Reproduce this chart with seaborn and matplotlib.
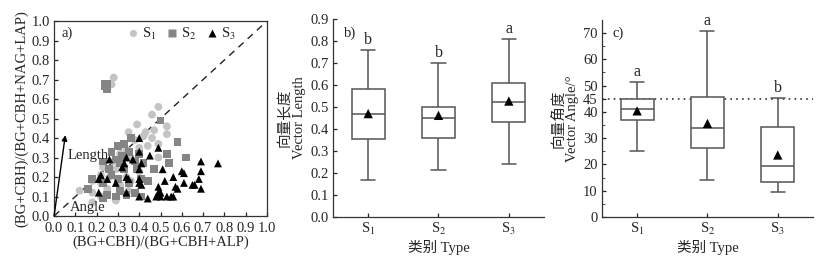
import numpy as np
import pandas as pd
import matplotlib
matplotlib.use("Agg")
import matplotlib.pyplot as plt
import seaborn as sns

# ---------------- data ----------------
groups = ["S$_1$", "S$_2$", "S$_3$"]

s1_x = [0.28, 0.27, 0.49, 0.46, 0.39, 0.53, 0.35, 0.43, 0.47, 0.42, 0.46, 0.38, 0.44, 0.49,
        0.40, 0.34, 0.31, 0.49, 0.36, 0.28, 0.23, 0.29, 0.40, 0.22, 0.26, 0.34, 0.18, 0.36,
        0.22, 0.31, 0.12, 0.18, 0.25, 0.22, 0.35, 0.29, 0.18, 0.53]
s1_y = [0.71, 0.675, 0.56, 0.52, 0.47, 0.46, 0.43, 0.43, 0.44, 0.41, 0.40, 0.39, 0.36, 0.37,
        0.35, 0.34, 0.32, 0.30, 0.30, 0.28, 0.25, 0.24, 0.23, 0.21, 0.20, 0.20, 0.18, 0.18,
        0.17, 0.16, 0.13, 0.12, 0.14, 0.10, 0.13, 0.08, 0.07, 0.42]

s2_x = [0.24, 0.25, 0.24, 0.25, 0.50, 0.58, 0.62, 0.36, 0.33, 0.30, 0.27, 0.32, 0.35, 0.40,
        0.53, 0.23, 0.29, 0.31, 0.38, 0.54, 0.42, 0.26, 0.33, 0.39, 0.47, 0.27, 0.41, 0.18,
        0.30, 0.23, 0.16, 0.35, 0.44, 0.31, 0.25, 0.34, 0.38, 0.41, 0.29, 0.23]
s2_y = [0.68, 0.68, 0.665, 0.65, 0.49, 0.38, 0.30, 0.40, 0.37, 0.36, 0.33, 0.31, 0.33, 0.32,
        0.32, 0.28, 0.29, 0.27, 0.28, 0.27, 0.27, 0.24, 0.24, 0.24, 0.24, 0.21, 0.19, 0.19,
        0.19, 0.17, 0.14, 0.17, 0.18, 0.13, 0.11, 0.11, 0.12, 0.10, 0.10, 0.09]

s3_x = [0.40, 0.49, 0.40, 0.34, 0.45, 0.37, 0.41, 0.26, 0.33, 0.69, 0.77, 0.32, 0.40, 0.51,
        0.22, 0.25, 0.34, 0.35, 0.60, 0.61, 0.69, 0.21, 0.29, 0.40, 0.40, 0.52, 0.56, 0.61,
        0.68, 0.41, 0.49, 0.57, 0.65, 0.66, 0.69, 0.58, 0.21, 0.34, 0.40, 0.44, 0.48, 0.50,
        0.53, 0.55, 0.56, 0.50, 0.49]
s3_y = [0.40, 0.35, 0.33, 0.30, 0.31, 0.29, 0.27, 0.29, 0.27, 0.28, 0.27, 0.25, 0.24, 0.24,
        0.21, 0.19, 0.20, 0.19, 0.23, 0.22, 0.23, 0.19, 0.17, 0.19, 0.17, 0.18, 0.20, 0.17,
        0.19, 0.16, 0.15, 0.15, 0.16, 0.16, 0.14, 0.14, 0.12, 0.12, 0.10, 0.09, 0.10, 0.10,
        0.10, 0.10, 0.10, 0.12, 0.12]

# box summaries: lower whisker, Q1, median, Q3, upper whisker
len_stats = {"S$_1$": [0.17, 0.353, 0.467, 0.580, 0.757],
             "S$_2$": [0.213, 0.357, 0.448, 0.498, 0.700],
             "S$_3$": [0.240, 0.430, 0.523, 0.610, 0.810]}
len_means = [0.470, 0.462, 0.527]
len_letters = ["b", "b", "a"]

ang_stats = {"S$_1$": [25.0, 36.8, 41.0, 44.9, 51.2],
             "S$_2$": [14.2, 26.2, 34.0, 45.6, 70.6],
             "S$_3$": [9.6, 13.2, 19.4, 34.1, 45.1]}
ang_means = [40.4, 35.6, 23.6]
ang_letters = ["a", "a", "b"]

# ---------------- style ----------------
sns.set_style("ticks")
plt.rcParams["font.family"] = ["Liberation Serif", "Noto Sans CJK SC"]
plt.rcParams["mathtext.fontset"] = "stix"
plt.rcParams["axes.unicode_minus"] = False

FS = 10.5
fig = plt.figure(figsize=(8.19, 2.6), dpi=100)
ax_a = fig.add_axes([0.066, 0.169, 0.260, 0.750])
ax_b = fig.add_axes([0.4066, 0.1654, 0.2576, 0.7615])
ax_c = fig.add_axes([0.735, 0.1654, 0.2576, 0.758])

# ---------------- panel a ----------------
df = pd.DataFrame({
    "x": s1_x + s2_x + s3_x,
    "y": s1_y + s2_y + s3_y,
    "g": [groups[0]] * len(s1_x) + [groups[1]] * len(s2_x) + [groups[2]] * len(s3_x),
})
pal = {groups[0]: "#c4c4c4", groups[1]: "#858585", groups[2]: "#000000"}
mk = {groups[0]: "o", groups[1]: "s", groups[2]: "^"}
ax_a.plot([0, 1], [0, 1], ls=(0, (5, 4)), color="#222222", lw=1.0, zorder=1)
sns.scatterplot(data=df, x="x", y="y", hue="g", style="g", palette=pal, markers=mk,
                s=32, edgecolor="none", ax=ax_a, zorder=3, legend=True)
ax_a.legend(ncol=3, loc="upper left", bbox_to_anchor=(0.275, 1.04), frameon=False,
            handletextpad=0.1, columnspacing=0.6, fontsize=FS, markerscale=0.9,
            handlelength=1.0)
ax_a.annotate("", xy=(0.053, 0.415), xytext=(0.0, 0.0),
              arrowprops=dict(arrowstyle="-|>", color="black", lw=1.0,
                              mutation_scale=8, shrinkA=0, shrinkB=0))
ax_a.text(0.066, 0.31, "Length", fontsize=FS, ha="left", va="center", zorder=6)
ax_a.text(0.075, 0.045, "Angle", fontsize=FS, ha="left", va="center")
ax_a.text(0.035, 0.935, "a)", fontsize=FS, ha="left", va="center")
ax_a.set_xlim(0, 1)
ax_a.set_ylim(0, 1)
ticks01 = np.round(np.arange(0, 1.01, 0.1), 1)
ax_a.set_xticks(ticks01)
ax_a.set_yticks(ticks01)
ax_a.set_xticklabels([f"{v:.1f}" for v in ticks01])
ax_a.set_yticklabels([f"{v:.1f}" for v in ticks01])
ax_a.tick_params(direction="in", length=3, labelsize=FS, width=0.9)
ax_a.tick_params(axis="x", pad=4)
ax_a.tick_params(axis="y", pad=3)
ax_a.set_xlabel("(BG+CBH)/(BG+CBH+ALP)", fontsize=FS, labelpad=1)
ax_a.set_ylabel("(BG+CBH)/(BG+CBH+NAG+LAP)", fontsize=FS, labelpad=2)
for sp in ax_a.spines.values():
    sp.set_linewidth(0.9)
    sp.set_color("#333333")


# ---------------- panels b, c ----------------
def box_panel(ax, stats, means, letters, ylim, yticks, ylabel, tag, letter_off):
    rows = []
    for g in groups:
        for v in stats[g]:
            rows.append((g, v))
    d = pd.DataFrame(rows, columns=["g", "v"])
    sns.boxplot(data=d, x="g", y="v", order=groups, whis=(0, 100), width=0.47,
                showfliers=False, color="white", linecolor="#555555", linewidth=1.1,
                saturation=1, ax=ax)
    # shorter caps like the reference
    for ln in ax.lines:
        xd = ln.get_xdata()
        yd = ln.get_ydata()
        if len(xd) == 2 and yd[0] == yd[1] and abs(xd[1] - xd[0]) > 0:
            c = (xd[0] + xd[1]) / 2
            st = stats[groups[int(round(c))]]
            if np.isclose(yd[0], st[0]) or np.isclose(yd[0], st[-1]):
                ln.set_xdata([c - 0.1, c + 0.1])
    sns.scatterplot(x=groups, y=means, marker="^", color="black", s=45,
                    edgecolor="none", ax=ax, zorder=5)
    for i, g in enumerate(groups):
        ax.text(i, stats[g][-1] + letter_off, letters[i], ha="center", va="bottom",
                fontsize=FS + 1)
    ax.set_xlim(-0.5, 2.5)
    ax.set_ylim(*ylim)
    ax.set_yticks(yticks)
    ax.set_xlabel("类别 Type", fontsize=FS, labelpad=2)
    ax.set_ylabel(ylabel, fontsize=FS, labelpad=3, linespacing=1.1)
    ax.tick_params(direction="in", labelsize=FS, length=3, pad=3, width=0.9)
    ax.text(0.05, 0.93, tag, transform=ax.transAxes, fontsize=FS, ha="left",
            va="center")
    sns.despine(ax=ax)
    for sp in ("left", "bottom"):
        ax.spines[sp].set_linewidth(0.9)
        ax.spines[sp].set_color("#333333")


yt_b = np.round(np.arange(0, 0.91, 0.1), 1)
box_panel(ax_b, len_stats, len_means, len_letters, (0, 0.9),
          yt_b, "向量长度\nVector Length", "b)", 0.01)
ax_b.set_yticklabels([f"{v:.1f}" for v in yt_b])

box_panel(ax_c, ang_stats, ang_means, ang_letters, (0, 75),
          [0, 10, 20, 30, 40, 45, 50, 60, 70], "向量角度\nVector Angle/°", "c)", 0.8)
ax_c.set_yticks(np.arange(5, 75, 10), minor=True)
ax_c.tick_params(which="minor", direction="in", length=2)
ax_c.axhline(45, ls=(0, (1, 2.5)), color="#333333", lw=1.2, zorder=0)

fig.savefig("out.png", dpi=100)
